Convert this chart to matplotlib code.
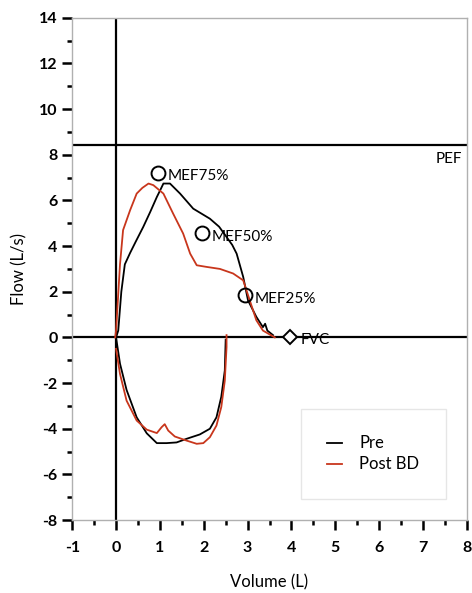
import numpy as np
import matplotlib.pyplot as plt
from matplotlib.ticker import MultipleLocator

plt.rcParams['font.family'] = ['Lato', 'DejaVu Sans']
plt.rcParams['axes.unicode_minus'] = False

# ---- data ----
pre_exp_vol = [0.0, 0.05, 0.12, 0.2, 0.32, 0.45, 0.62, 0.78, 0.93, 1.02, 1.08,
               1.23, 1.46, 1.76, 2.14, 2.35, 2.52, 2.65, 2.75, 2.9, 3.01,
               3.2, 3.35, 3.4, 3.45, 3.58]
pre_exp_flow = [0.0, 0.3, 2.0, 3.2, 3.7, 4.2, 4.84, 5.5, 6.15, 6.5, 6.74,
                6.74, 6.3, 5.64, 5.2, 4.85, 4.4, 4.05, 3.67, 2.65, 1.62,
                0.9, 0.45, 0.6, 0.3, 0.1]
pre_insp_vol = [0.0, 0.09, 0.24, 0.47, 0.7, 0.93, 1.15, 1.38, 1.61, 1.91,
                2.14, 2.29, 2.4, 2.48, 2.5]
pre_insp_flow = [0.0, -1.15, -2.3, -3.5, -4.2, -4.63, -4.63, -4.6, -4.44,
                 -4.25, -4.0, -3.5, -2.6, -1.45, -0.1]

post_exp_vol = [-0.02, 0.0, 0.09, 0.16, 0.32, 0.47, 0.6, 0.74, 0.85, 1.08, 1.3,
                1.53, 1.69, 1.84, 2.06, 2.37, 2.67, 2.9, 3.05, 3.2, 3.35, 3.62]
post_exp_flow = [0.0, 0.3, 3.2, 4.7, 5.57, 6.3, 6.55, 6.74, 6.67, 6.3, 5.43,
                 4.55, 3.67, 3.16, 3.09, 3.0, 2.8, 2.5, 1.62, 0.75, 0.3, 0.0]
post_insp_vol = [0.0, 0.09, 0.24, 0.47, 0.7, 0.93, 1.04, 1.11, 1.19, 1.34,
                 1.61, 1.84, 1.99, 2.14, 2.29, 2.4, 2.48, 2.52, 2.52]
post_insp_flow = [-0.5, -1.6, -2.77, -3.64, -4.04, -4.19, -3.93, -3.8, -4.08,
                  -4.34, -4.52, -4.66, -4.63, -4.37, -3.86, -3.05, -1.9, -0.42, 0.1]

mef_names = ['MEF75%', 'MEF50%', 'MEF25%']
mef_vol = [0.96, 1.96, 2.94]
mef_flow = [7.2, 4.56, 1.84]
fvc_vol = 3.96
pef_flow = 8.42

RED = '#c8361c'

fig = plt.figure(figsize=(4.72, 5.93), dpi=100)
ax = fig.add_axes([0.153, 0.123, 0.836, 0.847])

# reference lines
ax.axvline(0, color='black', lw=1.6, zorder=2)
ax.axhline(0, color='black', lw=1.6, zorder=2)
ax.axhline(pef_flow, color='black', lw=1.6, zorder=2)
ax.text(7.9, pef_flow - 0.3, 'PEF', ha='right', va='top', fontsize=11)

# loops
ax.plot(pre_exp_vol, pre_exp_flow, color='black', lw=1.3, label='Pre', zorder=3)
ax.plot(pre_insp_vol, pre_insp_flow, color='black', lw=1.3, zorder=3)
ax.plot(post_exp_vol, post_exp_flow, color=RED, lw=1.3, label='Post BD', zorder=3)
ax.plot(post_insp_vol, post_insp_flow, color=RED, lw=1.3, zorder=3)

# markers
ax.plot(mef_vol, mef_flow, 'o', mfc='none', mec='black', mew=1.4, ms=10, zorder=4)
for name, v, f in zip(mef_names, mef_vol, mef_flow):
    ax.text(v + 0.22, f - 0.15, name, va='center', fontsize=11)
ax.plot([fvc_vol], [0], 'D', mfc='white', mec='black', mew=1.4, ms=7.5, zorder=4)
ax.text(fvc_vol + 0.25, -0.1, 'FVC', va='center', fontsize=11)

ax.set_xlim(-1, 8)
ax.set_ylim(-8, 14)
ax.xaxis.set_major_locator(MultipleLocator(1))
ax.xaxis.set_minor_locator(MultipleLocator(0.5))
ax.yaxis.set_major_locator(MultipleLocator(2))
ax.yaxis.set_minor_locator(MultipleLocator(1))
ax.tick_params(which='major', length=7, width=1.8, labelsize=11.5, direction='out')
ax.tick_params(axis='x', which='major', pad=8)
ax.tick_params(which='minor', length=3.5, width=1.8, direction='out')
plt.setp(ax.get_xticklabels(), fontweight='bold')
plt.setp(ax.get_yticklabels(), fontweight='bold')

for s in ax.spines.values():
    s.set_color('#b0b0b0')
    s.set_linewidth(1.0)

ax.set_xlabel('Volume (L)', fontsize=12, labelpad=14)
ax.set_ylabel('Flow (L/s)', fontsize=12, labelpad=8)

leg = ax.legend(loc='lower right', bbox_to_anchor=(0.955, 0.035), fontsize=12,
                frameon=True, handlelength=0.9, borderpad=1.3, labelspacing=0.3,
                handletextpad=1.0)
leg.get_frame().set_edgecolor('#e0e0e0')
leg.get_frame().set_boxstyle('square')

plt.savefig('out.png', dpi=100)
